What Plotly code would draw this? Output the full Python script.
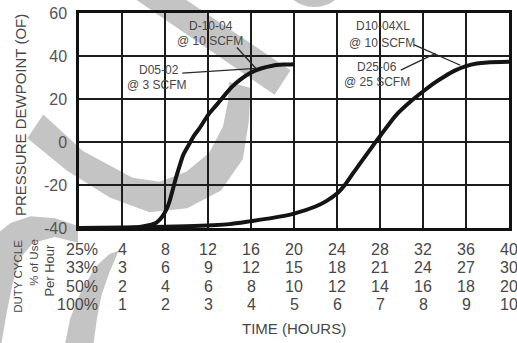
import plotly.graph_objects as go

# ---------------- data ----------------
hours_small = [0, 4, 5.5, 6.5, 7.2, 7.7, 8.1, 8.4, 8.7, 9.0, 9.3, 9.7, 10.25, 10.7,
               11.2, 12, 12.7, 13.5, 14.2, 15, 16, 17, 18, 19, 20]
dew_small = [-40, -40, -39.6, -38.7, -37.5, -35, -31.7, -28, -22.6, -17, -12, -6, -1, 3,
             6.3, 12.5, 16.7, 21.5, 25.5, 29, 32.3, 34.3, 35.5, 36, 36.2]

hours_large = [0, 6, 10, 14, 16, 18, 20, 22, 23, 24, 24.8, 25.5, 26.1, 27.2, 28.1,
               29.5, 31, 32, 33, 34, 35, 36, 37, 38, 40]
dew_large = [-40, -39.6, -39.2, -38.2, -36.8, -35.3, -33.3, -30, -27.5, -24, -19.5,
             -14.5, -10.3, -2.7, 3.4, 12.5, 19.5, 23.5, 27.3, 30.5, 33.3, 35.3, 36.5,
             37, 37.3]

y_ticks = [-40, -20, 0, 20, 40, 60]
y_tick_text = ["-40", "-20", "0", "20", "40", "60"]

duty_labels = ["25%", "33%", "50%", "100%"]
row_25 = [4, 8, 12, 16, 20, 24, 28, 32, 36, 40]
row_33 = [3, 6, 9, 12, 15, 18, 21, 24, 27, 30]
row_50 = [2, 4, 6, 8, 10, 12, 14, 16, 18, 20]
row_100 = [1, 2, 3, 4, 5, 6, 7, 8, 9, 10]

# ---------------- layout helpers ----------------
W, H = 517, 343
L, R, T, B = 79, 5, 10, 115
PW, PH = W - L - R, H - T - B


def px(x, y):
    """pixel position -> paper coordinates"""
    return (x - L) / PW, (H - B - y) / PH


FONT = "Liberation Sans, Arial, sans-serif"
TXT = "#474747"
WM = "#c4c4c4"

fig = go.Figure()
fig.add_trace(go.Scatter(x=hours_small, y=dew_small, mode="lines",
                         line=dict(color="#141414", width=4, shape="spline", smoothing=0.6),
                         hoverinfo="skip", showlegend=False))
fig.add_trace(go.Scatter(x=hours_large, y=dew_large, mode="lines",
                         line=dict(color="#141414", width=4, shape="spline", smoothing=0.6),
                         hoverinfo="skip", showlegend=False))

shapes = []


def poly(points, color=WM):
    d = ""
    for i, (x, y) in enumerate(points):
        u, v = px(x, y)
        d += ("M" if i == 0 else "L") + f"{u:.4f},{v:.4f} "
    d += "Z"
    return dict(type="path", path=d, xref="paper", yref="paper",
                fillcolor=color, line=dict(width=0), layer="below")


# watermark (light grey background strokes)
shapes.append(poly([(130, -8), (180, -8), (292, 68), (276, 93)]))
shapes.append(poly([(43, 113), (83, 150), (133, 177), (160, 181), (187, 171), (210, 152),
                    (224, 125), (229, 100), (230, 80), (252, 86), (250, 120), (244, 158),
                    (222, 190), (188, 208), (150, 212), (110, 197), (67, 170), (27, 137)]))
shapes.append(poly([(78, 226), (55, 218), (30, 216), (10, 223), (-5, 235), (-15, 270),
                    (-20, 350), (0, 350), (6, 315), (12, 285), (20, 258), (33, 243),
                    (55, 237), (78, 243)]))
shapes.append(poly([(110, 254), (119, 251), (110, 272), (102, 295), (97, 320), (93, 350),
                    (64, 350), (70, 320), (80, 295), (95, 268)]))
cx0, cy0 = px(282, -64)
cx1, cy1 = px(350, 4)
shapes.append(dict(type="circle", xref="paper", yref="paper", x0=cx0, y0=cy0, x1=cx1, y1=cy1,
                   fillcolor=WM, line=dict(width=0), layer="below"))


def leader(p0, p1):
    a, b = px(*p0)
    c, d = px(*p1)
    return dict(type="line", xref="paper", yref="paper", x0=a, y0=b, x1=c, y1=d,
                line=dict(color="#2a2a2a", width=1.3), layer="above")


shapes += [leader((238, 45), (257, 66)), leader((183, 71), (258, 66)),
           leader((416, 42), (463, 63)), leader((403, 68), (438, 51))]

ann = []


def label(text, x, y, size=12, anchor="center", angle=0, color=TXT):
    u, v = px(x, y)
    ann.append(dict(text=text, x=u, y=v, xref="paper", yref="paper", showarrow=False,
                    xanchor=anchor, yanchor="middle", textangle=angle,
                    font=dict(family=FONT, size=size, color=color)))


label("D-10-04", 212, 23)
label("@ 10 SCFM", 211, 38)
label("D05-02", 160, 68)
label("@ 3 SCFM", 158, 83)
label("D10-04XL", 385, 23)
label("@ 10 SCFM", 384, 40)
label("D25-06", 379, 65)
label("@ 25 SCFM", 379, 80)

label("PRESSURE DEWPOINT (OF)", 20, 113, size=15, angle=-90)
label("DUTY CYCLE", 18, 277, size=11.5, angle=-90)
label("% of Use", 33, 263, size=11.5, angle=-90)
label("Per Hour", 49, 271, size=13, angle=-90)
label("TIME (HOURS)", 296, 330, size=15)

row_y = [250, 268, 287, 306]
rows = [row_25, row_33, row_50, row_100]
for r, (lab, vals) in enumerate(zip(duty_labels, rows)):
    label(lab, 100, row_y[r], size=16, anchor="right")
    for pos, v in zip(row_25, vals):
        ann.append(dict(text=str(v), x=pos, xref="x", y=px(0, row_y[r])[1], yref="paper",
                        showarrow=False, xanchor="center", yanchor="middle",
                        font=dict(family=FONT, size=16, color=TXT)))

fig.update_layout(
    width=W, height=H, margin=dict(l=L, r=R, t=T, b=B),
    paper_bgcolor="white", plot_bgcolor="white",
    shapes=shapes, annotations=ann, showlegend=False,
    xaxis=dict(range=[0, 40], tickvals=row_25, showticklabels=False, ticks="",
               showgrid=True, gridcolor="#1c1c1c", gridwidth=2, zeroline=False,
               showline=True, mirror=True, linecolor="#111111", linewidth=2.5,
               fixedrange=True),
    yaxis=dict(range=[-40, 60], tickvals=y_ticks, ticktext=y_tick_text, ticks="",
               ticklabelstandoff=6,
               tickfont=dict(family=FONT, size=16, color="#555555"),
               showgrid=True, gridcolor="#1c1c1c", gridwidth=2, zeroline=False,
               showline=True, mirror=True, linecolor="#111111", linewidth=2.5,
               fixedrange=True),
)

fig.write_html("out.html", config={"displayModeBar": False},
               post_script="document.body.style.margin='0';document.body.style.overflow='hidden';")
